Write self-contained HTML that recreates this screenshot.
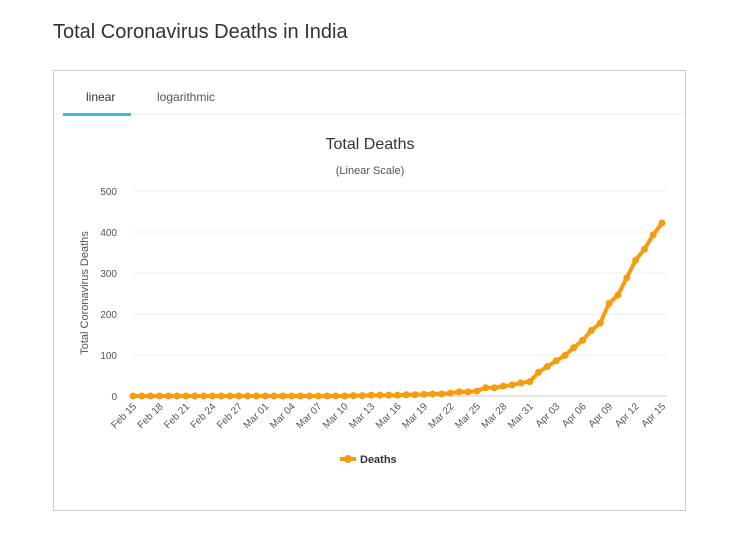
<!DOCTYPE html>
<html><head><meta charset="utf-8"><style>
body{margin:0;background:#fff;font-family:"Liberation Sans",sans-serif;}
</style></head><body>
<svg width="736" height="543" xmlns="http://www.w3.org/2000/svg" font-family="Liberation Sans, sans-serif">
<text x="53" y="38" font-size="20" fill="#333">Total Coronavirus Deaths in India</text>
<rect x="53.5" y="70.5" width="632" height="440" fill="#fff" stroke="#ccc"/>
<line x1="54" y1="114" x2="685" y2="114" stroke="#eee"/>
<rect x="63" y="113" width="68" height="3" fill="#3cb8e8"/>
<text x="86" y="101" font-size="12" fill="#333">linear</text>
<text x="157" y="101" font-size="12" fill="#555">logarithmic</text>
<text x="370" y="149" font-size="16" fill="#333" text-anchor="middle">Total Deaths</text>
<text x="370" y="174" font-size="11" fill="#555" text-anchor="middle">(Linear Scale)</text>
<text transform="translate(88,293) rotate(-90)" font-size="11" fill="#555" text-anchor="middle">Total Coronavirus Deaths</text>
<g id="grid"></g>
<g id="xl"></g>
<polyline id="ln" fill="none" stroke="#f79c0e" stroke-width="4" stroke-linejoin="round"/>
<g id="pts" fill="#f79c0e"></g>
<line x1="340" y1="459" x2="356" y2="459" stroke="#f79c0e" stroke-width="4"/>
<circle cx="348" cy="459" r="4" fill="#f79c0e"/>
<text x="360" y="463" font-size="11" font-weight="bold" fill="#333">Deaths</text>
</svg>
<script>
var ns="http://www.w3.org/2000/svg";
function el(t,a,p,txt){var e=document.createElementNS(ns,t);for(var k in a)e.setAttribute(k,a[k]);if(txt)e.textContent=txt;document.getElementById(p).appendChild(e);}
for(var i=0;i<=5;i++){var y=396-i*41;el("line",{x1:133,x2:667,y1:y,y2:y,stroke:i==0?"#ccc":"#eee"},"grid");
el("text",{x:117,y:y+4,"font-size":10,fill:"#555","text-anchor":"end"},"grid",String(i*100));}
var v=[];for(var i=0;i<25;i++)v.push(0);
v=v.concat([1,1,2,2,2,2,3,3,4,5,5,7,10,10,12,20,20,24,27,32,35,58,72,86,99,118,136,160,178,226,246,288,331,358,393,422]);
while(v.length<61)v.unshift(0);
var pts=[];var dx=529/60;
for(var i=0;i<61;i++){var x=133+i*dx,y=396-v[i]*0.41;pts.push(x.toFixed(1)+","+y.toFixed(1));
el("circle",{cx:x,cy:y,r:3.5},"pts");}
document.getElementById("ln").setAttribute("points",pts.join(" "));
var labs=["Feb 15","Feb 18","Feb 21","Feb 24","Feb 27","Mar 01","Mar 04","Mar 07","Mar 10","Mar 13","Mar 16","Mar 19","Mar 22","Mar 25","Mar 28","Mar 31","Apr 03","Apr 06","Apr 09","Apr 12","Apr 15"];
for(var j=0;j<labs.length;j++){var x=133+j*3*dx+4;
el("text",{transform:"translate("+x+",407) rotate(-45)","font-size":10,fill:"#555","text-anchor":"end"},"xl",labs[j]);}
</script>
</body></html>
